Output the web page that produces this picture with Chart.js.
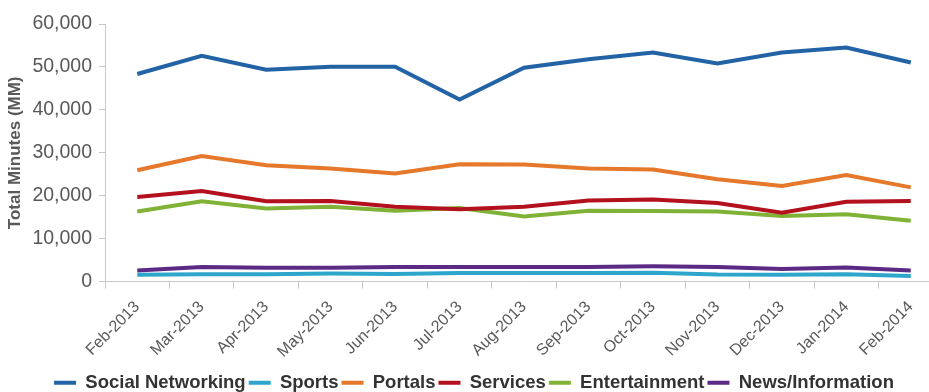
<!DOCTYPE html>
<html>
<head>
<meta charset="utf-8">
<script src="https://cdn.jsdelivr.net/npm/chart.js@4.4.0/dist/chart.umd.min.js"></script>
<style>
    html, body { margin: 0; padding: 0; background: #fff; overflow: hidden; }
    #wrap { width: 943px; height: 392px; }
</style>
</head>
<body>
<div id="wrap"><canvas id="chart"></canvas></div>
<script>
const months = ["Feb-2013", "Mar-2013", "Apr-2013", "May-2013", "Jun-2013", "Jul-2013", "Aug-2013",
    "Sep-2013", "Oct-2013", "Nov-2013", "Dec-2013", "Jan-2014", "Feb-2014"];

const socialNetworking = [48350, 52600, 49350, 50050, 50050, 42400, 49800, 51800, 53350, 50800, 53350, 54500, 51050];
const sports = [1600, 1700, 1700, 1900, 1800, 2000, 2000, 2000, 2050, 1650, 1600, 1700, 1300];
const portals = [25950, 29250, 27100, 26350, 25200, 27350, 27250, 26350, 26100, 23850, 22250, 24800, 21950];
const services = [19700, 21100, 18700, 18750, 17450, 16850, 17450, 18900, 19150, 18300, 16050, 18600, 18750];
const entertainment = [16350, 18700, 17050, 17450, 16500, 17150, 15150, 16500, 16450, 16350, 15300, 15700, 14150];
const newsInfo = [2600, 3400, 3250, 3250, 3400, 3400, 3400, 3400, 3550, 3400, 2950, 3300, 2600];

const yTicks = [0, 10000, 20000, 30000, 40000, 50000, 60000];

const seriesNames = ["Social Networking", "Sports", "Portals", "Services", "Entertainment", "News/Information"];
const seriesData = [socialNetworking, sports, portals, services, entertainment, newsInfo];
const colors = ["#2163a5", "#2ea6cc", "#e5782a", "#b3111e", "#7fb236", "#5a2a84"];

const grey = "#595959";
const axisColor = "#c8c8c8";

const datasets = seriesNames.map((name, i) => ({
    label: name,
    data: seriesData[i],
    borderColor: colors[i],
    backgroundColor: colors[i],
    borderWidth: 4,
    pointRadius: 0,
    tension: 0,
    fill: false,
}));

new Chart(document.getElementById("chart"), {
    type: "line",
    data: { labels: months, datasets },
    options: {
        responsive: true,
        maintainAspectRatio: false,
        animation: false,
        layout: { padding: { top: 24, left: 5, right: 0, bottom: -10 } },
        plugins: {
            tooltip: { enabled: false },
            legend: {
                position: "bottom",
                labels: {
                    boxWidth: 22,
                    boxHeight: 4,
                    padding: 3,
                    color: "#333",
                    font: { family: "Liberation Sans, Arial", size: 18.5, weight: "bold" },
                    generateLabels: (chart) => Chart.defaults.plugins.legend.labels.generateLabels(chart)
                        .map((l) => ({ ...l, lineWidth: 0 })),
                },
            },
        },
        scales: {
            x: {
                offset: true,
                grid: {
                    offset: true,
                    drawOnChartArea: false,
                    color: axisColor,
                    tickLength: 7,
                },
                border: { color: axisColor, width: 1 },
                ticks: {
                    minRotation: 45,
                    maxRotation: 45,
                    color: grey,
                    padding: 9,
                    font: { family: "Liberation Sans, Arial", size: 16 },
                },
            },
            y: {
                min: 0,
                max: 60000,
                afterBuildTicks: (axis) => { axis.ticks = yTicks.map((v) => ({ value: v })); },
                grid: {
                    drawOnChartArea: false,
                    color: axisColor,
                    tickLength: 6,
                },
                border: { color: axisColor, width: 1 },
                ticks: {
                    color: grey,
                    padding: 7,
                    font: { family: "Liberation Sans, Arial", size: 19.5 },
                    callback: (v) => v.toLocaleString("en-US"),
                },
                title: {
                    display: true,
                    text: "Total Minutes (MM)",
                    color: grey,
                    padding: { top: 0, bottom: 0 },
                    font: { family: "Liberation Sans, Arial", size: 17, weight: "bold" },
                },
            },
        },
    },
});
</script>
</body>
</html>
